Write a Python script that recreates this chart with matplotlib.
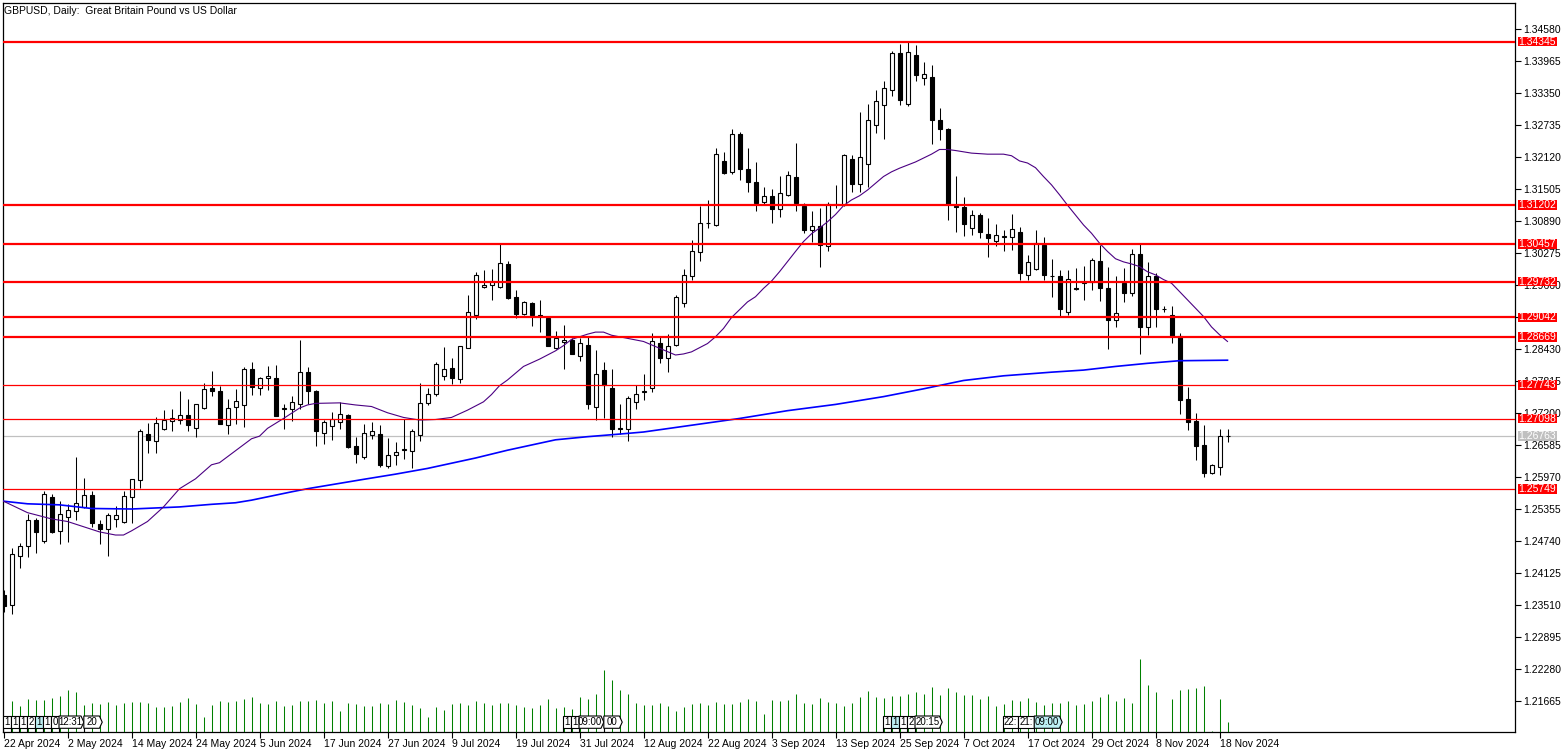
import numpy as np
import matplotlib.pyplot as plt
from matplotlib.patches import Rectangle, Polygon
from matplotlib.transforms import blended_transform_factory

plt.rcParams['font.family'] = ['Liberation Sans Narrow', 'Liberation Sans', 'DejaVu Sans']

title = "GBPUSD, Daily:  Great Britain Pound vs US Dollar"

date_labels = ["22 Apr 2024", "2 May 2024", "14 May 2024", "24 May 2024", "5 Jun 2024",
               "17 Jun 2024", "27 Jun 2024", "9 Jul 2024", "19 Jul 2024", "31 Jul 2024",
               "12 Aug 2024", "22 Aug 2024", "3 Sep 2024", "13 Sep 2024", "25 Sep 2024",
               "7 Oct 2024", "17 Oct 2024", "29 Oct 2024", "8 Nov 2024", "18 Nov 2024"]

price_ticks = [1.21665, 1.22280, 1.22895, 1.23510, 1.24125, 1.24740, 1.25355, 1.25970,
               1.26585, 1.27200, 1.27815, 1.28430, 1.29045, 1.29660, 1.30275, 1.30890,
               1.31505, 1.32120, 1.32735, 1.33350, 1.33965, 1.34580]
hidden_ticks = [1.29045]   # fully covered by a level label in the reference

opens = [1.2371, 1.2351, 1.2446, 1.2464, 1.2514, 1.2475, 1.2559, 1.2493, 1.2520, 1.2532,
         1.2539, 1.2563, 1.2507, 1.2498, 1.2516, 1.2511, 1.2559, 1.2591, 1.2680, 1.2666,
         1.2690, 1.2705, 1.2708, 1.2716, 1.2692, 1.2730, 1.2768, 1.2762, 1.2698, 1.2732,
         1.2735, 1.2806, 1.2768, 1.2787, 1.2787, 1.2728, 1.2728, 1.2738, 1.2799, 1.2763,
         1.2683, 1.2696, 1.2703, 1.2716, 1.2657, 1.2635, 1.2678, 1.2680, 1.2618, 1.2639,
         1.2650, 1.2647, 1.2678, 1.2740, 1.2757, 1.2792, 1.2807, 1.2785, 1.2846, 1.2908,
         1.2962, 1.2966, 1.2962, 1.3007, 1.2944, 1.2911, 1.2932, 1.2908, 1.2904, 1.2845,
         1.2857, 1.2860, 1.2831, 1.2851, 1.2732, 1.2803, 1.2768, 1.2691, 1.2689, 1.2741,
         1.2760, 1.2768, 1.2856, 1.2826, 1.2851, 1.2931, 1.2983, 1.3029, 1.3085, 1.3082,
         1.3205, 1.3183, 1.3257, 1.3189, 1.3165, 1.3126, 1.3137, 1.3112, 1.3140, 1.3174,
         1.3119, 1.3072, 1.3079, 1.3041, 1.3122, 1.3120, 1.3209, 1.3160, 1.3200, 1.3275,
         1.3312, 1.3341, 1.3412, 1.3314, 1.3408, 1.3364, 1.3366, 1.3284, 1.3266, 1.3119,
         1.3116, 1.3076, 1.3101, 1.3064, 1.3052, 1.3059, 1.3058, 1.3068, 1.2985, 1.2998,
         1.3043, 1.2984, 1.2984, 1.2914, 1.2960, 1.2970, 1.2972, 1.3013, 1.2961, 1.2899,
         1.2970, 1.2952, 1.3027, 1.2886, 1.2984, 1.2921, 1.2908, 1.2869, 1.2747, 1.2705,
         1.2659, 1.2606, 1.2617, 1.2677]
highs = [1.2380, 1.2461, 1.2471, 1.2526, 1.2518, 1.2571, 1.2565, 1.2551, 1.2546, 1.2636,
         1.2596, 1.2571, 1.2514, 1.2528, 1.2542, 1.2570, 1.2594, 1.2689, 1.2701, 1.2712,
         1.2726, 1.2728, 1.2763, 1.2748, 1.2738, 1.2779, 1.2801, 1.2772, 1.2747, 1.2766,
         1.2808, 1.2818, 1.2790, 1.2811, 1.2813, 1.2738, 1.2753, 1.2861, 1.2809, 1.2764,
         1.2708, 1.2722, 1.2741, 1.2719, 1.2674, 1.2700, 1.2703, 1.2698, 1.2672, 1.2665,
         1.2709, 1.2689, 1.2778, 1.2769, 1.2819, 1.2847, 1.2826, 1.2850, 1.2947, 1.2991,
         1.2995, 1.2997, 1.3047, 1.3013, 1.2957, 1.2936, 1.2933, 1.2937, 1.2907, 1.2878,
         1.2889, 1.2865, 1.2865, 1.2866, 1.2842, 1.2819, 1.2805, 1.2738, 1.2753, 1.2774,
         1.2795, 1.2874, 1.2867, 1.2872, 1.2947, 1.2997, 1.3053, 1.3118, 1.3129, 1.3230,
         1.3222, 1.3266, 1.3261, 1.3229, 1.3202, 1.3154, 1.3151, 1.3176, 1.3186, 1.3240,
         1.3124, 1.3109, 1.3114, 1.3127, 1.3159, 1.3218, 1.3217, 1.3299, 1.3314, 1.3341,
         1.3359, 1.3417, 1.3430, 1.3434, 1.3427, 1.3395, 1.3389, 1.3306, 1.3268, 1.3176,
         1.3136, 1.3111, 1.3104, 1.3095, 1.3084, 1.3073, 1.3103, 1.3078, 1.3025, 1.3072,
         1.3059, 1.3017, 1.2995, 1.2995, 1.2999, 1.3003, 1.3019, 1.3044, 1.3001, 1.2983,
         1.2999, 1.3036, 1.3047, 1.3011, 1.2989, 1.2926, 1.2926, 1.2874, 1.2770, 1.2721,
         1.2698, 1.2622, 1.2689, 1.2690]
lows = [1.2338, 1.2334, 1.2423, 1.2444, 1.2451, 1.2471, 1.2490, 1.2468, 1.2473, 1.2514,
        1.2537, 1.2502, 1.2468, 1.2446, 1.2502, 1.2510, 1.2510, 1.2576, 1.2644, 1.2644,
        1.2687, 1.2686, 1.2699, 1.2685, 1.2675, 1.2729, 1.2754, 1.2699, 1.2680, 1.2699,
        1.2694, 1.2755, 1.2756, 1.2764, 1.2714, 1.2689, 1.2706, 1.2728, 1.2738, 1.2658,
        1.2660, 1.2669, 1.2690, 1.2653, 1.2624, 1.2632, 1.2671, 1.2616, 1.2614, 1.2620,
        1.2632, 1.2615, 1.2667, 1.2735, 1.2753, 1.2784, 1.2776, 1.2779, 1.2845, 1.2902,
        1.2961, 1.2938, 1.2961, 1.2940, 1.2903, 1.2908, 1.2888, 1.2877, 1.2849, 1.2843,
        1.2806, 1.2834, 1.2821, 1.2728, 1.2708, 1.2710, 1.2674, 1.2681, 1.2667, 1.2728,
        1.2746, 1.2760, 1.2817, 1.2799, 1.2849, 1.2925, 1.2976, 1.3012, 1.3077, 1.3079,
        1.3179, 1.3179, 1.3168, 1.3145, 1.3109, 1.3120, 1.3086, 1.3098, 1.3137, 1.3109,
        1.3067, 1.3049, 1.3002, 1.3032, 1.3115, 1.3119, 1.3146, 1.3146, 1.3154, 1.3259,
        1.3248, 1.3330, 1.3312, 1.3310, 1.3359, 1.3350, 1.3237, 1.3245, 1.3092, 1.3069,
        1.3060, 1.3063, 1.3056, 1.3021, 1.3042, 1.3031, 1.3034, 1.2976, 1.2976, 1.2995,
        1.2976, 1.2944, 1.2907, 1.2909, 1.2956, 1.2938, 1.2957, 1.2936, 1.2844, 1.2885,
        1.2934, 1.2946, 1.2834, 1.2870, 1.2886, 1.2914, 1.2856, 1.2719, 1.2687, 1.2630,
        1.2598, 1.2604, 1.2602, 1.2664]
closes = [1.2350, 1.2449, 1.2464, 1.2514, 1.2492, 1.2564, 1.2492, 1.2526, 1.2534, 1.2547,
          1.2562, 1.2509, 1.2498, 1.2524, 1.2524, 1.2561, 1.2593, 1.2686, 1.2669, 1.2701,
          1.2707, 1.2710, 1.2717, 1.2698, 1.2737, 1.2767, 1.2762, 1.2700, 1.2731, 1.2743,
          1.2806, 1.2770, 1.2787, 1.2791, 1.2715, 1.2731, 1.2741, 1.2799, 1.2762, 1.2685,
          1.2704, 1.2709, 1.2718, 1.2655, 1.2642, 1.2682, 1.2685, 1.2621, 1.2639, 1.2645,
          1.2651, 1.2686, 1.2739, 1.2758, 1.2814, 1.2806, 1.2787, 1.2849, 1.2914, 1.2985,
          1.2966, 1.2975, 1.3008, 1.2942, 1.2910, 1.2933, 1.2908, 1.2906, 1.2850, 1.2864,
          1.2861, 1.2834, 1.2856, 1.2737, 1.2795, 1.2774, 1.2690, 1.2690, 1.2749, 1.2758,
          1.2762, 1.2858, 1.2826, 1.2849, 1.2943, 1.2985, 1.3031, 1.3085, 1.3086, 1.3218,
          1.3182, 1.3257, 1.3190, 1.3164, 1.3125, 1.3137, 1.3112, 1.3143, 1.3178, 1.3125,
          1.3073, 1.3079, 1.3043, 1.3123, 1.3123, 1.3216, 1.3160, 1.3212, 1.3283, 1.3320,
          1.3346, 1.3412, 1.3323, 1.3414, 1.3371, 1.3373, 1.3284, 1.3267, 1.3122, 1.3116,
          1.3083, 1.3102, 1.3069, 1.3056, 1.3063, 1.3060, 1.3074, 1.2989, 1.3011, 1.3047,
          1.2985, 1.2983, 1.2921, 1.2978, 1.2959, 1.2973, 1.3015, 1.2961, 1.2899, 1.2912,
          1.2952, 1.3027, 1.2886, 1.2983, 1.2921, 1.2920, 1.2869, 1.2746, 1.2703, 1.2657,
          1.2606, 1.2620, 1.2676, 1.26763]

# tick volume, thousands
volume = [0, 92, 77, 98, 95, 95, 101, 107, 125, 119, 80, 86, 83, 89, 80, 86, 89, 89, 86, 74,
          74, 77, 89, 101, 83, 44, 80, 92, 89, 92, 98, 104, 86, 83, 92, 77, 80, 92, 92, 95,
          86, 92, 62, 86, 83, 77, 77, 86, 83, 95, 89, 80, 71, 44, 74, 65, 83, 86, 80, 92,
          86, 80, 86, 87, 80, 74, 71, 80, 98, 71, 74, 68, 104, 98, 113, 185, 155, 125, 113, 86,
          80, 80, 86, 77, 62, 74, 83, 86, 80, 89, 83, 83, 89, 98, 92, 53, 95, 92, 95, 113,
          86, 83, 101, 89, 86, 77, 86, 104, 122, 104, 101, 107, 107, 113, 119, 113, 134, 110, 131, 119,
          110, 110, 98, 107, 77, 83, 95, 92, 101, 89, 80, 86, 86, 92, 80, 83, 92, 104, 113, 92,
          101, 86, 218, 140, 119, 0, 98, 125, 128, 131, 137, 3, 98, 29]

ma_fast_bars = [0, 3, 6, 8, 10, 12, 14, 15, 16, 18, 20, 22, 24, 26, 27, 29, 31, 32, 33, 35,
                37, 38, 39, 42, 44, 46, 48, 50, 52, 54, 56, 58, 60, 61, 62, 63, 65, 67, 69, 70,
                71, 73, 74, 75, 76, 78, 80, 82, 84, 85, 86, 88, 89, 90, 91, 93, 94, 95, 96, 97,
                99, 100, 101, 102, 103, 104, 105, 106, 107, 108, 109, 110, 111, 112, 113, 114, 116, 117, 118, 119,
                121, 123, 125, 126, 127, 128, 129, 130, 131, 132, 133, 134, 135, 136, 137, 138, 139, 140, 141, 142,
                143, 144, 145, 146, 147, 149, 150, 151, 152, 153]
ma_fast = [1.2551, 1.2529, 1.2517, 1.2512, 1.2502, 1.2492, 1.2486, 1.2486, 1.2494, 1.2512,
           1.2540, 1.2575, 1.2594, 1.2621, 1.2625, 1.2648, 1.2671, 1.2676, 1.2691, 1.2710,
           1.2730, 1.2736, 1.2739, 1.2740, 1.2736, 1.2733, 1.2721, 1.2712, 1.2707, 1.2708,
           1.2712, 1.2726, 1.2742, 1.2756, 1.2773, 1.2784, 1.2810, 1.2824, 1.2840, 1.2850,
           1.2862, 1.2872, 1.2876, 1.2876, 1.2870, 1.2864, 1.2858, 1.2845, 1.2832, 1.2834,
           1.2838, 1.2854, 1.2867, 1.2883, 1.2904, 1.2934, 1.2944, 1.2960, 1.2974, 1.2992,
           1.3031, 1.3050, 1.3065, 1.3076, 1.3088, 1.3102, 1.3119, 1.3130, 1.3138, 1.3149,
           1.3162, 1.3175, 1.3184, 1.3191, 1.3197, 1.3203, 1.3218, 1.3227, 1.3227, 1.3225,
           1.3220, 1.3218, 1.3218, 1.3215, 1.3205, 1.3201, 1.3192, 1.3175, 1.3159, 1.3140,
           1.3120, 1.3101, 1.3082, 1.3066, 1.3047, 1.3031, 1.3017, 1.3011, 1.3007, 1.3002,
           1.2992, 1.2986, 1.2977, 1.2970, 1.2954, 1.2922, 1.2906, 1.2886, 1.2871, 1.2858]

ma_slow_bars = [0, 3, 7, 11, 16, 22, 26, 29, 31, 36, 38, 45, 49, 53, 59, 63, 69, 73, 77, 80,
                86, 92, 98, 104, 110, 115, 120, 125, 131, 135, 139, 143, 147, 153]
ma_slow = [1.2551, 1.2546, 1.2544, 1.2537, 1.2536, 1.2540, 1.2545, 1.2548, 1.2553, 1.2569,
           1.2575, 1.2593, 1.2603, 1.2614, 1.2634, 1.2649, 1.2669, 1.2675, 1.2680, 1.2684,
           1.2697, 1.2710, 1.2725, 1.2737, 1.2752, 1.2767, 1.2783, 1.2792, 1.2799, 1.2803,
           1.2810, 1.2816, 1.2821, 1.2822]

levels_major = [1.34345, 1.31202, 1.30457, 1.29732, 1.29042, 1.28669]
levels_minor = [1.27743, 1.27098, 1.25749]
bid = 1.26763

# calendar event markers: (first bar, cell texts, cell widths in bars, highlighted cell, arrow cells)
events = [
    (0, ['1', '1', '1', '2', '1', '1', '0', '12:31', '20'], [1, 1, 1, 1, 1, 1, 1, 3.1, 2.3], 4, 2),
    (70, ['1', '1', '09:00', '00'], [1, 1, 3.1, 2.3], None, 2),
    (110, ['1', '1', '1', '2', '20:15'], [1, 1, 1, 1, 3.4], 1, 1),
    (125, ['22:', '21:', '09:00'], [1.9, 2, 3.5], 2, 1),
]

W, H = 1568, 753
fig = plt.figure(figsize=(W / 100, H / 100), dpi=100)
fig.patch.set_facecolor('white')
left_px, right_px, top_px, bot_px = 2.5, 1515.3, 2.7, 731.7
rect = [left_px / W, 1 - bot_px / H, (right_px - left_px) / W, (bot_px - top_px) / H]
ax = fig.add_axes(rect)

x = np.arange(len(opens))
o = np.array(opens); h = np.array(highs); l = np.array(lows); c = np.array(closes)
up = c >= o

ax.axhline(bid, color='#C0C0C0', lw=0.9, zorder=1)
ax.vlines(x, l, h, color='black', lw=0.75, zorder=2)
lo = np.minimum(o, c)
hh = np.maximum(np.abs(c - o), 0.00001)
ax.bar(x[up], hh[up], bottom=lo[up], width=0.5, color='white', edgecolor='black', lw=0.8, zorder=3)
ax.bar(x[~up], hh[~up], bottom=lo[~up], width=0.5, color='black', edgecolor='black', lw=0.8, zorder=3)

ax.plot(ma_slow_bars, ma_slow, color='#0000FF', lw=1.2, zorder=4)
ax.plot(ma_fast_bars, ma_fast, color='#4B0082', lw=0.8, zorder=4)

for lv in levels_major:
    ax.axhline(lv, color='#FF0000', lw=1.6, zorder=5)
for lv in levels_minor:
    ax.axhline(lv, color='#FF0000', lw=0.9, zorder=5)

# bar centres on pixel centres so 1 px wicks and volume lines stay crisp
ax.set_xlim(-0.125, 188.975)
ax.set_ylim(1.21080, 1.35091)

ax.set_xticks(range(0, 8 * len(date_labels), 8))
ax.set_xticklabels(date_labels)
for t in ax.get_xticklabels():
    t.set_horizontalalignment('left')
ax.yaxis.tick_right()
ax.set_yticks(price_ticks)
ax.set_yticklabels(["" if v in hidden_ticks else "%.5f" % v for v in price_ticks])
ax.tick_params(axis='x', length=4, width=0.8, pad=1, labelsize=7.5, colors='black')
ax.tick_params(axis='y', length=4, width=0.8, pad=1.5, labelsize=7.5, colors='black')
for s in ax.spines.values():
    s.set_linewidth(0.9)
    s.set_color('black')

# price labels on the right scale
tr_lab = blended_transform_factory(fig.transFigure, ax.transData)
box_h = 9.7 * (1.35091 - 1.21080) / (bot_px - top_px)
def price_label(v, fc):
    ax.add_patch(Rectangle((1517.7 / W, v - box_h / 2), 39 / W, box_h, transform=tr_lab,
                           facecolor=fc, edgecolor='none', clip_on=False, zorder=10))
    ax.text(1537.4 / W, v, "%.5f" % v, transform=tr_lab, color='white', fontsize=7.5,
            ha='center', va='center', clip_on=False, zorder=11)

for lv in levels_major + levels_minor:
    price_label(lv, '#FF0000')
price_label(bid, '#C0C0C0')

# volumes
axv = fig.add_axes(rect)
axv.patch.set_visible(False)
axv.set_xlim(ax.get_xlim())
axv.set_ylim(0, 3 * (bot_px - top_px))
axv.axis('off')
axv.vlines(x, 0, volume, color='#008000', lw=0.75)

tr_ev = blended_transform_factory(axv.transData, axv.transAxes)
ah = bot_px - top_px
cb = (bot_px - 728.3) / ah
ct = (bot_px - 716.0) / ah
cm = (cb + ct) / 2
tip = 0.35
for start, cells, widths, hi, n_arrow in events:
    x0 = start - 0.06
    for k, (lab, w) in enumerate(zip(cells, widths)):
        fc = '#BDEFF3' if k == hi else 'white'
        x1 = x0 + w
        if k >= len(cells) - n_arrow:
            pts = [(x0, cb), (x1 - tip, cb), (x1, cm), (x1 - tip, ct), (x0, ct)]
            tx = x0 + (w - tip) / 2
        else:
            pts = [(x0, cb), (x1, cb), (x1, ct), (x0, ct)]
            tx = x0 + w / 2
        axv.add_patch(Polygon(pts, closed=True, transform=tr_ev, facecolor=fc,
                              edgecolor='black', lw=0.8, zorder=5 + k))
        axv.plot([x0, x0], [0, cb], transform=tr_ev, color='black', lw=0.8, zorder=5)
        axv.text(tx, cm, lab, transform=tr_ev, fontsize=7, ha='center', va='center',
                 color='black', zorder=6 + k)
        x0 = x1

fig.text(4 / W, 1 - 10.5 / H, title, fontsize=7.5, ha='left', va='center', color='black')

fig.savefig('out.png', dpi=100, facecolor='white')
